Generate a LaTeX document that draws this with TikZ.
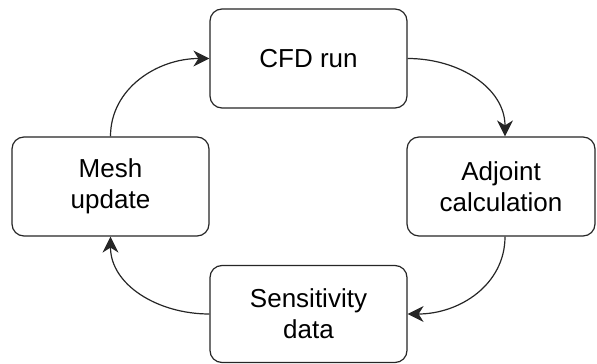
\documentclass[tikz,border=0pt]{standalone}
\usepackage{fontspec}
\setmainfont{Liberation Sans}
\usetikzlibrary{arrows.meta}
\begin{document}
\begin{tikzpicture}[x=1pt,y=1pt,
  stepbox/.style={draw=black!85, line width=1.2pt, rounded corners=12pt, fill=white,
    align=center, inner sep=0pt, font=\fontsize{26}{31}\selectfont},
  flow/.style={draw=black!85, line width=1.2pt,
    -{Stealth[length=16pt,width=16pt,inset=5pt]}}]
\useasboundingbox (0,0) rectangle (597,364);
\node[stepbox, minimum width=197pt, minimum height=99pt] (cfd) at (308.5,305.5) {CFD run};
\node[stepbox, minimum width=188pt, minimum height=99pt] (adj) at (501,177.5) {Adjoint\\calculation};
\node[stepbox, minimum width=197pt, minimum height=97pt] (sens) at (308.5,50) {Sensitivity\\data};
\node[stepbox, minimum width=197pt, minimum height=99pt] (mesh) at (110.5,177.5) {Mesh\\update};
\draw[flow] (mesh.north) .. controls +(0,48) and +(-52,0) .. (cfd.west);
\draw[flow] (cfd.east) .. controls +(52,0) and +(0,48) .. ([xshift=4pt]adj.north);
\draw[flow] ([xshift=4pt]adj.south) .. controls +(0,-48) and +(52,0) .. (sens.east);
\draw[flow] (sens.west) .. controls +(-52,0) and +(0,-48) .. (mesh.south);
\end{tikzpicture}
\end{document}
